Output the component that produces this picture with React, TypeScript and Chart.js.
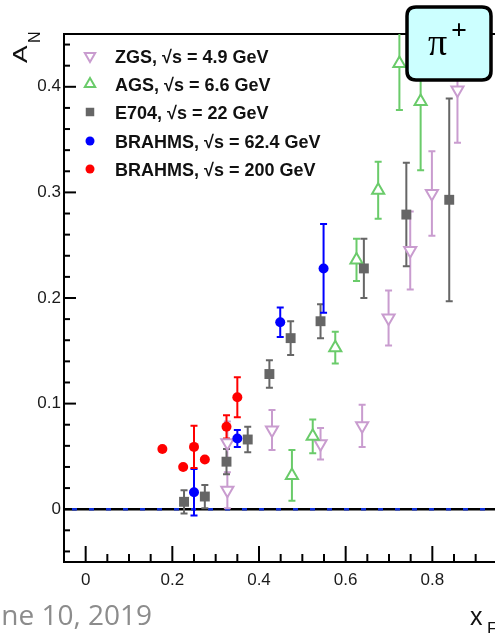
import { useEffect, useRef } from 'react';
import { Chart, registerables } from 'chart.js';

Chart.register(...registerables);

// ---- data ----
const zgsX = [0.327, 0.327, 0.43, 0.542, 0.638, 0.699, 0.749, 0.799, 0.858];
const zgsY = [0.018, 0.063, 0.075, 0.062, 0.079, 0.181, 0.245, 0.299, 0.397];
const zgsErr = [0.017, 0.02, 0.019, 0.015, 0.02, 0.026, 0.037, 0.04, 0.05];

const agsX = [0.476, 0.524, 0.576, 0.625, 0.675, 0.724, 0.773];
const agsY = [0.032, 0.069, 0.153, 0.236, 0.302, 0.422, 0.386];
const agsErr = [0.024, 0.016, 0.015, 0.02, 0.027, 0.044, 0.065];

const e704X = [0.227, 0.275, 0.325, 0.374, 0.424, 0.473, 0.542, 0.642, 0.74, 0.839];
const e704Y = [0.007, 0.012, 0.045, 0.066, 0.128, 0.162, 0.178, 0.228, 0.279, 0.293];
const e704Err = [0.011, 0.011, 0.012, 0.012, 0.013, 0.016, 0.016, 0.028, 0.049, 0.096];

const br62X = [0.25, 0.35, 0.449, 0.549];
const br62Y = [0.016, 0.067, 0.177, 0.228];
const br62Err = [0.022, 0.008, 0.014, 0.042];

const br200X = [0.177, 0.225, 0.25, 0.275, 0.325, 0.35];
const br200Y = [0.057, 0.04, 0.059, 0.047, 0.078, 0.106];
const br200Err = [0, 0, 0.02, 0, 0.011, 0.019];

const seriesLabels = [
  'ZGS, √s = 4.9 GeV',
  'AGS, √s = 6.6 GeV',
  'E704, √s = 22 GeV',
  'BRAHMS, √s = 62.4 GeV',
  'BRAHMS, √s = 200 GeV',
];

const xTickValues = [0, 0.2, 0.4, 0.6, 0.8, 1.0];
const yTickValues = [0, 0.1, 0.2, 0.3, 0.4];
const yAxisTitle = 'A';
const yAxisSub = 'N';
const xAxisTitle = 'x';
const xAxisSub = 'F';
const badgeMain = 'π';
const badgeSup = '+';
const footerText = 'June 10, 2019';

type Series = {
  label: string;
  x: number[];
  y: number[];
  err: number[];
  color: string;
  style: 'triangle' | 'rect' | 'circle';
  rotation: number;
  filled: boolean;
  radius: number;
  order: number;
};

const SERIES: Series[] = [
  { label: seriesLabels[0], x: zgsX, y: zgsY, err: zgsErr, color: '#c99ccf', style: 'triangle', rotation: 180, filled: false, radius: 7, order: 5 },
  { label: seriesLabels[1], x: agsX, y: agsY, err: agsErr, color: '#6acb6a', style: 'triangle', rotation: 0, filled: false, radius: 7, order: 4 },
  { label: seriesLabels[2], x: e704X, y: e704Y, err: e704Err, color: '#666666', style: 'rect', rotation: 0, filled: true, radius: 7, order: 3 },
  { label: seriesLabels[3], x: br62X, y: br62Y, err: br62Err, color: '#0000ff', style: 'circle', rotation: 0, filled: true, radius: 5, order: 2 },
  { label: seriesLabels[4], x: br200X, y: br200Y, err: br200Err, color: '#ff0000', style: 'circle', rotation: 0, filled: true, radius: 5, order: 1 },
];

const fmt = (v: number) => {
  if (Math.abs(v) < 1e-9) return '0';
  return String(Math.round(v * 10) / 10);
};

function drawMarker(ctx: CanvasRenderingContext2D, s: Series, x: number, y: number, r: number) {
  ctx.save();
  ctx.lineWidth = 2;
  ctx.strokeStyle = s.color;
  ctx.fillStyle = s.filled ? s.color : '#ffffff';
  ctx.beginPath();
  if (s.style === 'triangle') {
    let rad = (s.rotation * Math.PI) / 180;
    ctx.moveTo(x + Math.sin(rad) * r, y - Math.cos(rad) * r);
    rad += (2 * Math.PI) / 3;
    ctx.lineTo(x + Math.sin(rad) * r, y - Math.cos(rad) * r);
    rad += (2 * Math.PI) / 3;
    ctx.lineTo(x + Math.sin(rad) * r, y - Math.cos(rad) * r);
    ctx.closePath();
    ctx.fill();
    ctx.stroke();
  } else if (s.style === 'rect') {
    const h = r * Math.SQRT1_2;
    ctx.rect(x - h, y - h, 2 * h, 2 * h);
    ctx.fill();
  } else {
    ctx.arc(x, y, r, 0, Math.PI * 2);
    ctx.fill();
  }
  ctx.restore();
}

const decorPlugin = {
  id: 'decor',
  beforeDatasetsDraw(chart: any) {
    const { ctx, chartArea: a, scales } = chart;
    const xs = scales.x;
    const ys = scales.y;
    ctx.save();
    // frame top / right
    ctx.strokeStyle = '#000';
    ctx.lineWidth = 2;
    ctx.beginPath();
    ctx.moveTo(a.left, a.top);
    ctx.lineTo(a.right, a.top);
    ctx.lineTo(a.right, a.bottom);
    ctx.stroke();
    // inner y ticks
    for (let k = -2; k <= 22; k++) {
      const v = k * 0.02;
      const py = ys.getPixelForValue(v);
      const major = k % 5 === 0;
      const len = major ? 12 : 6;
      ctx.beginPath();
      ctx.moveTo(a.left, py);
      ctx.lineTo(a.left + len, py);
      ctx.stroke();
    }
    // inner x ticks
    for (let k = 0; k <= 20; k++) {
      const v = k * 0.05;
      const px = xs.getPixelForValue(v);
      const major = k % 4 === 0;
      const len = major ? 16 : 8;
      ctx.beginPath();
      ctx.moveTo(px, a.bottom);
      ctx.lineTo(px, a.bottom - len);
      ctx.stroke();
    }
    // zero line
    const y0 = ys.getPixelForValue(0);
    ctx.beginPath();
    ctx.moveTo(a.left, y0);
    ctx.lineTo(a.right, y0);
    ctx.lineWidth = 2.5;
    ctx.strokeStyle = '#000';
    ctx.stroke();
    ctx.setLineDash([5, 12]);
    ctx.lineWidth = 2.5;
    ctx.strokeStyle = '#1030d8';
    ctx.beginPath();
    ctx.moveTo(a.left + 8, y0);
    ctx.lineTo(a.right, y0);
    ctx.stroke();
    ctx.setLineDash([]);

    // error bars
    ctx.beginPath();
    ctx.rect(a.left, a.top, a.right - a.left, a.bottom - a.top);
    ctx.clip();
    SERIES.forEach((s) => {
      ctx.strokeStyle = s.color;
      ctx.lineWidth = 2;
      s.x.forEach((xv, i) => {
        const e = s.err[i];
        if (!e) return;
        const px = xs.getPixelForValue(xv);
        const top = ys.getPixelForValue(s.y[i] + e);
        const bot = ys.getPixelForValue(s.y[i] - e);
        ctx.beginPath();
        ctx.moveTo(px, top);
        ctx.lineTo(px, bot);
        ctx.moveTo(px - 3.5, top);
        ctx.lineTo(px + 3.5, top);
        ctx.moveTo(px - 3.5, bot);
        ctx.lineTo(px + 3.5, bot);
        ctx.stroke();
      });
    });
    ctx.restore();
  },
  afterDraw(chart: any) {
    const { ctx } = chart;
    ctx.save();
    // legend
    const rowY = [56, 84, 112, 141, 169];
    SERIES.forEach((s, i) => {
      const r = s.style === 'circle' ? 4.5 : 6;
      drawMarker(ctx, s, 90, rowY[i], r);
      ctx.fillStyle = '#111';
      ctx.font = 'bold 18px "Liberation Sans", Arial, sans-serif';
      ctx.textBaseline = 'alphabetic';
      ctx.textAlign = 'left';
      ctx.fillText(s.label, 115, rowY[i] + 6.5);
    });

    // y axis title (rotated)
    ctx.save();
    ctx.translate(27, 63);
    ctx.rotate(-Math.PI / 2);
    ctx.fillStyle = '#111';
    ctx.textAlign = 'left';
    ctx.textBaseline = 'alphabetic';
    ctx.save();
    ctx.scale(1.25, 1);
    ctx.font = '21px "Liberation Sans", Arial, sans-serif';
    ctx.fillText(yAxisTitle, 0, 0);
    ctx.restore();
    ctx.font = '16px "Liberation Sans", Arial, sans-serif';
    ctx.fillText(yAxisSub, 20, 13);
    ctx.restore();

    // x axis title
    ctx.fillStyle = '#111';
    ctx.font = '25px "Liberation Sans", Arial, sans-serif';
    ctx.textAlign = 'left';
    ctx.textBaseline = 'alphabetic';
    ctx.fillText(xAxisTitle, 470, 625);
    ctx.font = '17px "Liberation Sans", Arial, sans-serif';
    ctx.fillText(xAxisSub, 487, 634);

    // pi+ badge
    const bx = 407, by = 7, bw = 84, bh = 73, br = 9;
    ctx.beginPath();
    ctx.moveTo(bx + br, by);
    ctx.lineTo(bx + bw - br, by);
    ctx.quadraticCurveTo(bx + bw, by, bx + bw, by + br);
    ctx.lineTo(bx + bw, by + bh - br);
    ctx.quadraticCurveTo(bx + bw, by + bh, bx + bw - br, by + bh);
    ctx.lineTo(bx + br, by + bh);
    ctx.quadraticCurveTo(bx, by + bh, bx, by + bh - br);
    ctx.lineTo(bx, by + br);
    ctx.quadraticCurveTo(bx, by, bx + br, by);
    ctx.closePath();
    ctx.fillStyle = '#ccffff';
    ctx.fill();
    ctx.lineWidth = 3.5;
    ctx.strokeStyle = '#000';
    ctx.stroke();
    ctx.fillStyle = '#000';
    ctx.font = '38px "Liberation Serif", "Times New Roman", serif';
    ctx.textBaseline = 'alphabetic';
    ctx.textAlign = 'left';
    ctx.fillText(badgeMain, 428, 55);
    ctx.font = 'bold 28px "Liberation Serif", "Times New Roman", serif';
    ctx.fillText(badgeSup, 451, 39);
    ctx.restore();
  },
};

export default function App() {
  const ref = useRef<HTMLCanvasElement>(null);
  useEffect(() => {
    const canvas = ref.current;
    if (!canvas) return;
    const tickFont = { family: '"Liberation Sans", Arial, sans-serif', size: 17 };
    const chart = new Chart(canvas, {
      type: 'scatter',
      data: {
        datasets: SERIES.map((s) => ({
          label: s.label,
          data: s.x.map((xv, i) => ({ x: xv, y: s.y[i] })),
          pointStyle: s.style,
          rotation: s.rotation,
          pointRadius: s.radius,
          pointHoverRadius: s.radius,
          borderColor: s.color,
          backgroundColor: s.filled ? s.color : '#ffffff',
          pointBorderWidth: s.filled ? 0 : 2,
          borderWidth: s.filled ? 0 : 2,
          showLine: false,
          order: s.order,
        })),
      },
      options: {
        responsive: false,
        animation: false,
        devicePixelRatio: 1,
        events: [],
        layout: { padding: { top: 34, right: 21, left: 0, bottom: 0 } },
        plugins: {
          legend: { display: false },
          tooltip: { enabled: false },
        },
        scales: {
          x: {
            type: 'linear',
            min: -0.05,
            max: 1.0,
            grid: { display: false, drawTicks: false },
            border: { display: true, color: '#000', width: 2 },
            afterBuildTicks: (s: any) => {
              s.ticks = xTickValues.map((v) => ({ value: v }));
            },
            ticks: {
              padding: 8,
              color: '#1a1a1a',
              font: tickFont,
              maxRotation: 0,
              autoSkip: false,
              callback: (v: any) => fmt(Number(v)),
            },
            afterFit: (s: any) => {
              s.height = 71;
            },
          },
          y: {
            type: 'linear',
            min: -0.05,
            max: 0.45,
            grid: { display: false, drawTicks: false },
            border: { display: true, color: '#000', width: 2 },
            afterBuildTicks: (s: any) => {
              s.ticks = yTickValues.map((v) => ({ value: v }));
            },
            ticks: {
              padding: 3,
              color: '#1a1a1a',
              font: tickFont,
              autoSkip: false,
              callback: (v: any) => fmt(Number(v)),
            },
            afterFit: (s: any) => {
              s.width = 64;
            },
          },
        },
      },
      plugins: [decorPlugin],
    } as any);
    return () => chart.destroy();
  }, []);

  return (
    <div
      style={{
        position: 'absolute',
        left: 0,
        top: 0,
        width: 495,
        height: 633,
        overflow: 'hidden',
        background: '#ffffff',
      }}
    >
      <canvas
        ref={ref}
        width={540}
        height={633}
        style={{ position: 'absolute', left: 0, top: 0, width: 540, height: 633 }}
      />
      <div
        style={{
          position: 'absolute',
          right: 343,
          top: 600,
          fontFamily: '"Open Sans", sans-serif',
          fontSize: 28,
          lineHeight: '28px',
          color: '#8c8c8c',
          whiteSpace: 'nowrap',
        }}
      >
        {footerText}
      </div>
    </div>
  );
}
